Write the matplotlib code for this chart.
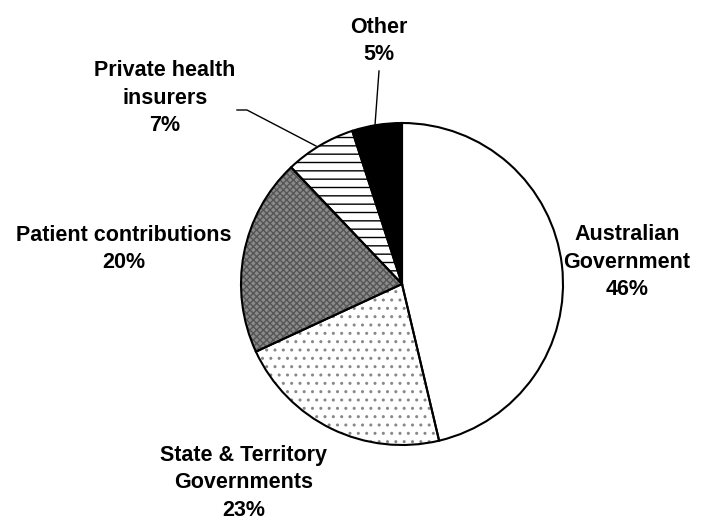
import matplotlib
matplotlib.use("Agg")
import matplotlib.pyplot as plt
from matplotlib.patches import Wedge

# Funding shares (clockwise from the top)
sources = ['Australian Government', 'State & Territory Governments',
           'Patient contributions', 'Private health insurers', 'Other']
shares = [46.3, 21.8, 19.8, 7.1, 5.0]
label_text = ['Australian\nGovernment\n46%', 'State & Territory\nGovernments\n23%',
              'Patient contributions\n20%', 'Private health\ninsurers\n7%', 'Other\n5%']

plt.rcParams['font.family'] = ['Liberation Sans', 'DejaVu Sans']
plt.rcParams['hatch.linewidth'] = 1.0

fig = plt.figure(figsize=(7.1, 5.22), dpi=100)
ax = fig.add_axes([0, 0, 1, 1])

wedges, _ = ax.pie(shares, center=(402, 238), radius=161, startangle=90,
                   counterclock=False, frame=True,
                   wedgeprops=dict(edgecolor='none', linewidth=0))
ax.set_xlim(0, 710)
ax.set_ylim(0, 522)
ax.set_aspect('equal')
ax.axis('off')

styles = [
    ('white', None, None),
    ('white', '..', '#888888'),
    ('#8a8a8a', 'xxxxx', '#555555'),
    ('white', '--', 'black'),
    ('black', None, None),
]
for w, (fc, hatch, hc) in zip(wedges, styles):
    w.set_facecolor(fc)
    if hatch:
        ax.add_patch(Wedge(w.center, w.r, w.theta1, w.theta2, facecolor='none',
                           edgecolor=hc, linewidth=0, hatch=hatch))
    ax.add_patch(Wedge(w.center, w.r, w.theta1, w.theta2, facecolor='none',
                       edgecolor='black', linewidth=1.5))

# label positions in pixel space (y measured from top)
label_pos = [(627, 262), (244, 483), (124, 249), (165, 98), (379, 41)]
for txt, (x, y) in zip(label_text, label_pos):
    ax.text(x, 522 - y, txt, ha='center', va='center', fontsize=15.5,
            fontweight='bold', linespacing=1.4)

# leader lines
ax.plot([379, 375], [522 - 71, 522 - 125], color='black', lw=1)
ax.plot([237, 247, 316], [522 - 110, 522 - 110, 522 - 146], color='black', lw=1)

fig.savefig('out.png', dpi=100)
